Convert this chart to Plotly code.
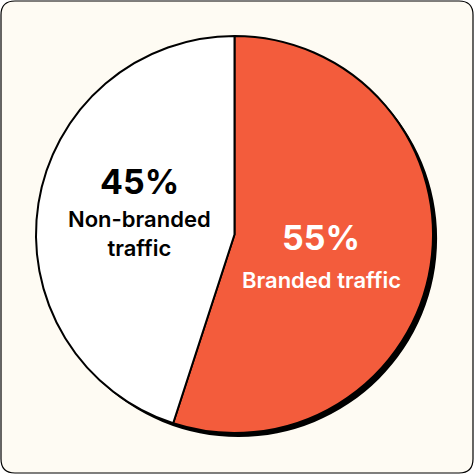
import plotly.graph_objects as go

# data
labels = ["Branded traffic", "Non-branded traffic"]
values = [55, 45]
label_lines = ["Branded traffic", "Non-branded<br>traffic"]
slice_colors = ["#F35C3C", "#FFFFFF"]
text_colors = ["#FFFFFF", "#000000"]

W = H = 474
bg = "#FEFBF3"


def px_x(v):
    return v / W


def px_y(v):
    return 1 - v / H


# pie box in pixels: left, top, size
left, top, size = 36, 36, 397
shadow_dx, shadow_dy = 4, 4

fig = go.Figure()

# drop shadow: a black pie sitting behind, nudged down-right
fig.add_trace(go.Pie(
    values=[1],
    marker=dict(colors=["#000000"], line=dict(width=0)),
    textinfo="none",
    hoverinfo="skip",
    sort=False,
    showlegend=False,
    domain=dict(
        x=[px_x(left + shadow_dx), px_x(left + size + shadow_dx)],
        y=[px_y(top + size + shadow_dy), px_y(top + shadow_dy)],
    ),
))

fig.add_trace(go.Pie(
    labels=labels,
    values=values,
    marker=dict(colors=slice_colors, line=dict(color="#000000", width=2)),
    textinfo="none",
    sort=False,
    direction="clockwise",
    rotation=0,
    showlegend=False,
    domain=dict(
        x=[px_x(left), px_x(left + size)],
        y=[px_y(top + size), px_y(top)],
    ),
))

# label placement (pixel centres of each text block)
pct_pos = [(321, 237), (139, 181)]
lab_pos = [(321, 280), (139, 234)]

for i, v in enumerate(values):
    fig.add_annotation(
        x=px_x(pct_pos[i][0]), y=px_y(pct_pos[i][1]),
        xref="paper", yref="paper", xanchor="center", yanchor="middle",
        text=f"<b>{v}%</b>", showarrow=False,
        font=dict(family="Inter", size=34, color=text_colors[i], weight=900),
    )
    fig.add_annotation(
        x=px_x(lab_pos[i][0]), y=px_y(lab_pos[i][1]),
        xref="paper", yref="paper", xanchor="center", yanchor="middle",
        text=label_lines[i], showarrow=False,
        font=dict(family="Inter", size=22, color=text_colors[i], weight=600),
    )

# rounded card behind everything
r = 14
x0, y0, x1, y1 = 1, 1, W - 1, H - 1
path = (
    f"M {px_x(x0 + r)},{px_y(y0)} L {px_x(x1 - r)},{px_y(y0)} "
    f"Q {px_x(x1)},{px_y(y0)} {px_x(x1)},{px_y(y0 + r)} "
    f"L {px_x(x1)},{px_y(y1 - r)} Q {px_x(x1)},{px_y(y1)} {px_x(x1 - r)},{px_y(y1)} "
    f"L {px_x(x0 + r)},{px_y(y1)} Q {px_x(x0)},{px_y(y1)} {px_x(x0)},{px_y(y1 - r)} "
    f"L {px_x(x0)},{px_y(y0 + r)} Q {px_x(x0)},{px_y(y0)} {px_x(x0 + r)},{px_y(y0)} Z"
)
fig.add_shape(
    type="path", path=path, xref="paper", yref="paper", layer="below",
    fillcolor=bg, line=dict(color="#000000", width=1.2),
)

fig.update_layout(
    width=W,
    height=H,
    margin=dict(t=0, l=0, r=0, b=0),
    paper_bgcolor="#FFFFFF",
    plot_bgcolor="#FFFFFF",
)

fig.write_html(
    "out.html",
    config={"displayModeBar": False},
    post_script="document.body.style.margin='0';",
)
